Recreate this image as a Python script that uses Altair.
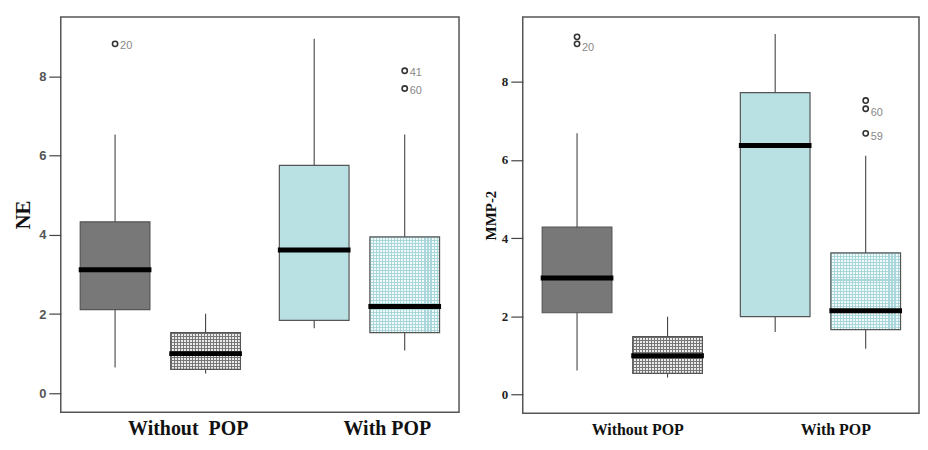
import altair as alt
import pandas as pd

# ---------------- data ----------------
groups = ["Without POP", "Without POP", "With POP", "With POP"]
subgroups = ["A", "B", "A", "B"]

ne_low = [0.65, 0.50, 1.64, 1.08]
ne_q1 = [2.11, 0.60, 1.84, 1.53]
ne_median = [3.12, 1.00, 3.62, 2.19]
ne_q3 = [4.33, 1.53, 5.76, 3.95]
ne_high = [6.54, 2.01, 8.96, 6.54]

ne_out_group = ["Without POP", "With POP", "With POP"]
ne_out_sub = ["A", "B", "B"]
ne_out_value = [8.83, 8.15, 7.70]
ne_out_label = ["20", "41", "60"]

mmp_low = [0.61, 0.43, 1.60, 1.17]
mmp_q1 = [2.09, 0.54, 1.99, 1.66]
mmp_median = [2.98, 0.99, 6.37, 2.14]
mmp_q3 = [4.28, 1.48, 7.72, 3.62]
mmp_high = [6.68, 1.99, 9.22, 6.11]

mmp_out_group = ["Without POP", "Without POP", "With POP", "With POP", "With POP"]
mmp_out_sub = ["A", "A", "B", "B", "B"]
mmp_out_value = [9.15, 8.97, 7.52, 7.31, 6.68]
mmp_out_label = ["", "20", "", "60", "59"]

y_ticks = [0, 2, 4, 6, 8]
group_order = ["Without POP", "With POP"]

# ---------------- styling ----------------
SOLID_COLORS = ["#787878", "#b9e1e4"]
CHECK_LINE = {"Without POP": "#777777", "With POP": "#a9d6da"}
CHECK_BG = {"Without POP": "#ebebeb", "With POP": "#f2fafa"}
BOX_W = 70


def stripes(n, line, bg, frac=0.36):
    stops = []
    for i in range(n):
        a, b, c = i / n, (i + frac) / n, (i + 1) / n
        stops += [alt.GradientStop(offset=a, color=line),
                  alt.GradientStop(offset=b, color=line),
                  alt.GradientStop(offset=b, color=bg),
                  alt.GradientStop(offset=c, color=bg)]
    return stops


def panel(low, q1, med, q3, high, og, osub, oval, olab, ytitle, ydomain,
          width, height, ycfg, xcfg, label_dy):
    df = pd.DataFrame({"group": groups, "sub": subgroups, "low": low, "q1": q1,
                       "med": med, "q3": q3, "high": high})
    odf = pd.DataFrame({"group": og, "sub": osub, "value": oval, "label": olab})

    yscale = alt.Scale(domain=ydomain, nice=False, zero=False)
    x = alt.X("group:N", sort=group_order,
              scale=alt.Scale(paddingInner=0, paddingOuter=0),
              axis=alt.Axis(title=None, labelAngle=0, ticks=False, domain=False, **xcfg))
    xo = alt.XOffset("sub:N", sort=["A", "B"],
                     scale=alt.Scale(paddingInner=0, paddingOuter=0.1))
    yaxis = alt.Axis(title=ytitle, values=y_ticks, grid=False, domain=False,
                     tickSize=12, tickColor="#444", tickWidth=1.2, **ycfg)

    base = alt.Chart(df).encode(x=x, xOffset=xo)

    whisk = base.mark_rule(color="#444", strokeWidth=1.1).encode(
        y=alt.Y("low:Q", scale=yscale, axis=yaxis), y2="high:Q")

    solid = base.transform_filter(alt.datum.sub == "A").mark_bar(
        width=BOX_W, stroke="#555", strokeWidth=1.2).encode(
        y=alt.Y("q1:Q", scale=yscale), y2="q3:Q",
        fill=alt.Fill("group:N", scale=alt.Scale(domain=group_order, range=SOLID_COLORS),
                      legend=None))

    layers = [whisk, solid]
    span = ydomain[1] - ydomain[0]
    for i, (g, s) in enumerate(zip(groups, subgroups)):
        if s != "B":
            continue
        hpx = (q3[i] - q1[i]) / span * height
        ny = max(2, round(hpx / 3))
        vgrad = alt.Gradient(gradient="linear", x1=0, x2=1, y1=0, y2=0,
                             stops=stripes(round(BOX_W / 3), CHECK_LINE[g], CHECK_BG[g]))
        hgrad = alt.Gradient(gradient="linear", x1=0, x2=0, y1=0, y2=1,
                             stops=stripes(ny, CHECK_LINE[g], "rgba(255,255,255,0)"))
        sel = base.transform_filter((alt.datum.group == g) & (alt.datum.sub == s))
        layers.append(sel.mark_bar(width=BOX_W, fill=vgrad).encode(
            y=alt.Y("q1:Q", scale=yscale), y2="q3:Q"))
        layers.append(sel.mark_bar(width=BOX_W, fill=hgrad, stroke="#555",
                                   strokeWidth=1.2).encode(
            y=alt.Y("q1:Q", scale=yscale), y2="q3:Q"))

    median = base.mark_tick(thickness=5, size=BOX_W + 3, color="#000",
                            opacity=1).encode(y=alt.Y("med:Q", scale=yscale))
    layers.append(median)

    obase = alt.Chart(odf).encode(x=x, xOffset=xo, y=alt.Y("value:Q", scale=yscale))
    pts = obase.mark_point(shape="circle", filled=False, size=28, color="#333",
                           strokeWidth=1.6, opacity=1)
    labs = obase.mark_text(align="left", baseline="middle", dx=5, dy=label_dy,
                           color="#888888", fontSize=11, font="Liberation Sans").encode(
        text="label:N")
    layers += [pts, labs]

    return alt.layer(*layers).properties(width=width, height=height)


left = panel(ne_low, ne_q1, ne_median, ne_q3, ne_high,
             ne_out_group, ne_out_sub, ne_out_value, ne_out_label,
             "NE", [-0.48, 9.51], 400, 397,
             dict(titleFont="Liberation Serif", titleFontSize=21, titleFontWeight="bold",
                  titleColor="#111", titlePadding=5,
                  labelFont="Liberation Sans", labelFontSize=13, labelFontWeight="bold",
                  labelColor="#555", labelPadding=3),
             dict(labelFont="Liberation Serif", labelFontSize=20, labelFontWeight="bold",
                  labelColor="#111", labelPadding=6, labelOffset=28,
                  labelExpr="datum.value == 'Without POP' ? 'Without\u00a0\u00a0POP' : datum.value"),
             2)

right = panel(mmp_low, mmp_q1, mmp_median, mmp_q3, mmp_high,
              mmp_out_group, mmp_out_sub, mmp_out_value, mmp_out_label,
              "MMP-2", [-0.48, 9.66], 398, 398,
              dict(titleFont="Liberation Serif", titleFontSize=15, titleFontWeight="bold",
                   titleColor="#111", titlePadding=3,
                   labelFont="Liberation Serif", labelFontSize=13, labelFontWeight="bold",
                   labelColor="#222", labelPadding=3),
              dict(labelFont="Liberation Serif", labelFontSize=16, labelFontWeight="bold",
                   labelColor="#111", labelPadding=8, labelOffset=16),
              4)

chart = alt.hconcat(left, right, spacing=22).properties(
    padding={"left": 4, "top": 7, "right": 0, "bottom": 0},
    background="white",
).configure_view(stroke="#555", strokeWidth=1.5)

chart.save("out.html", embed_options={"renderer": "svg", "actions": False})
